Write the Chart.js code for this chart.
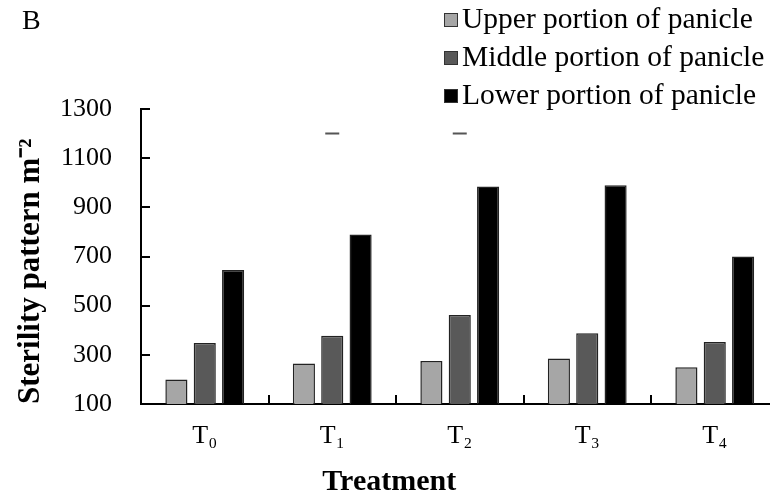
<!DOCTYPE html>
<html>
<head>
<meta charset="utf-8">
<script src="https://cdn.jsdelivr.net/npm/chart.js@4/dist/chart.umd.min.js"></script>
<style>
    html, body { margin:0; padding:0; overflow:hidden; background:#fff; }
    #wrap { position:relative; width:770px; height:497px; overflow:hidden; }
    #panel { position:absolute; left:22px; top:4px; font:28px "Liberation Serif", serif; color:#000; }
    #legend { position:absolute; left:444px; top:0px; font:29.5px "Liberation Serif", serif; color:#000; }
    #legend .row { display:flex; align-items:center; height:37.7px; white-space:nowrap; }
    #legend .box { width:14px; height:14px; border:1px solid #333; margin-right:4px; margin-top:3px; box-sizing:border-box; }
</style>
</head>
<body>
<div id="wrap">
    <canvas id="chart" width="792" height="497"></canvas>
    <div id="panel">B</div>
    <div id="legend"></div>
</div>
<script>
const categories = ["T\u2080", "T\u2081", "T\u2082", "T\u2083", "T\u2084"]
const seriesNames = ["Upper portion of panicle", "Middle portion of panicle", "Lower portion of panicle"]
const upper = [200, 265, 275, 285, 250]
const middle = [348, 378, 462, 388, 352]
const lower = [645, 790, 985, 990, 700]
// little caps drawn above T1 and T2
const capMarks = [null, 1200, 1200, null, null]
const yMin = 100, yMax = 1300, yStep = 200

const serif = "'Liberation Serif', 'Times New Roman', serif"
const colors = ["#a6a6a6", "#595959", "#000000"]

function barSet(i, values){
    return {
        label: seriesNames[i], data: values,
        backgroundColor: colors[i], borderColor: "#222", borderWidth: 1.5,
        categoryPercentage: 0.667, barPercentage: 0.78
    }
}

const chart = new Chart(document.getElementById("chart"), {
    type: 'bar',
    data: {
        labels: categories,
        datasets: [
            barSet(0, upper), barSet(1, middle), barSet(2, lower),
            { type:'line', label:'cap', data:capMarks, showLine:false, pointStyle:'line',
              pointRadius:7, pointHoverRadius:7, borderColor:'#555', borderWidth:2 }
        ]
    },
    options: {
        responsive:false, animation:false,
        layout:{ padding:{ top:109, right:13.5, left:0, bottom:0 } },
        plugins:{
            legend:{ display:false },
            tooltip:{ enabled:false },
            title:{ display:true, position:'bottom', text:'Treatment', color:'#000',
                font:{ family:serif, size:30, weight:'bold', lineHeight:1 }, padding:{ top:2, bottom:0 } }
        },
        scales:{
            x:{
                grid:{ drawOnChartArea:false, tickLength:-9, color:'#000', lineWidth:2, offset:true },
                border:{ color:'#000', width:2 },
                ticks:{ color:'#000', font:{ family:serif, size:26 }, padding:26 },
                afterFit(s){ s.height = 61 }
            },
            y:{
                min:yMin, max:yMax,
                grid:{ drawOnChartArea:false, tickLength:-9, color:'#000', lineWidth:2 },
                border:{ color:'#000', width:2 },
                ticks:{ stepSize:yStep, color:'#000', font:{ family:serif, size:26 }, padding:38,
                    callback: v => String(v) },
                title:{ display:true, text:'Sterility pattern m\u207B\u00B2', align:'start', color:'#000',
                    font:{ family:serif, size:31, weight:'bold', lineHeight:1 }, padding:{ top:15, bottom:-6 } },
                afterFit(s){ s.width = 141 }
            }
        }
    }
})

// html legend built from the bar datasets
const legendEl = document.getElementById("legend")
chart.data.datasets.slice(0, 3).forEach(ds => {
    const row = document.createElement("div")
    row.className = "row"
    const box = document.createElement("span")
    box.className = "box"
    box.style.background = ds.backgroundColor
    const txt = document.createElement("span")
    txt.textContent = ds.label
    row.appendChild(box)
    row.appendChild(txt)
    legendEl.appendChild(row)
})
</script>
</body>
</html>
